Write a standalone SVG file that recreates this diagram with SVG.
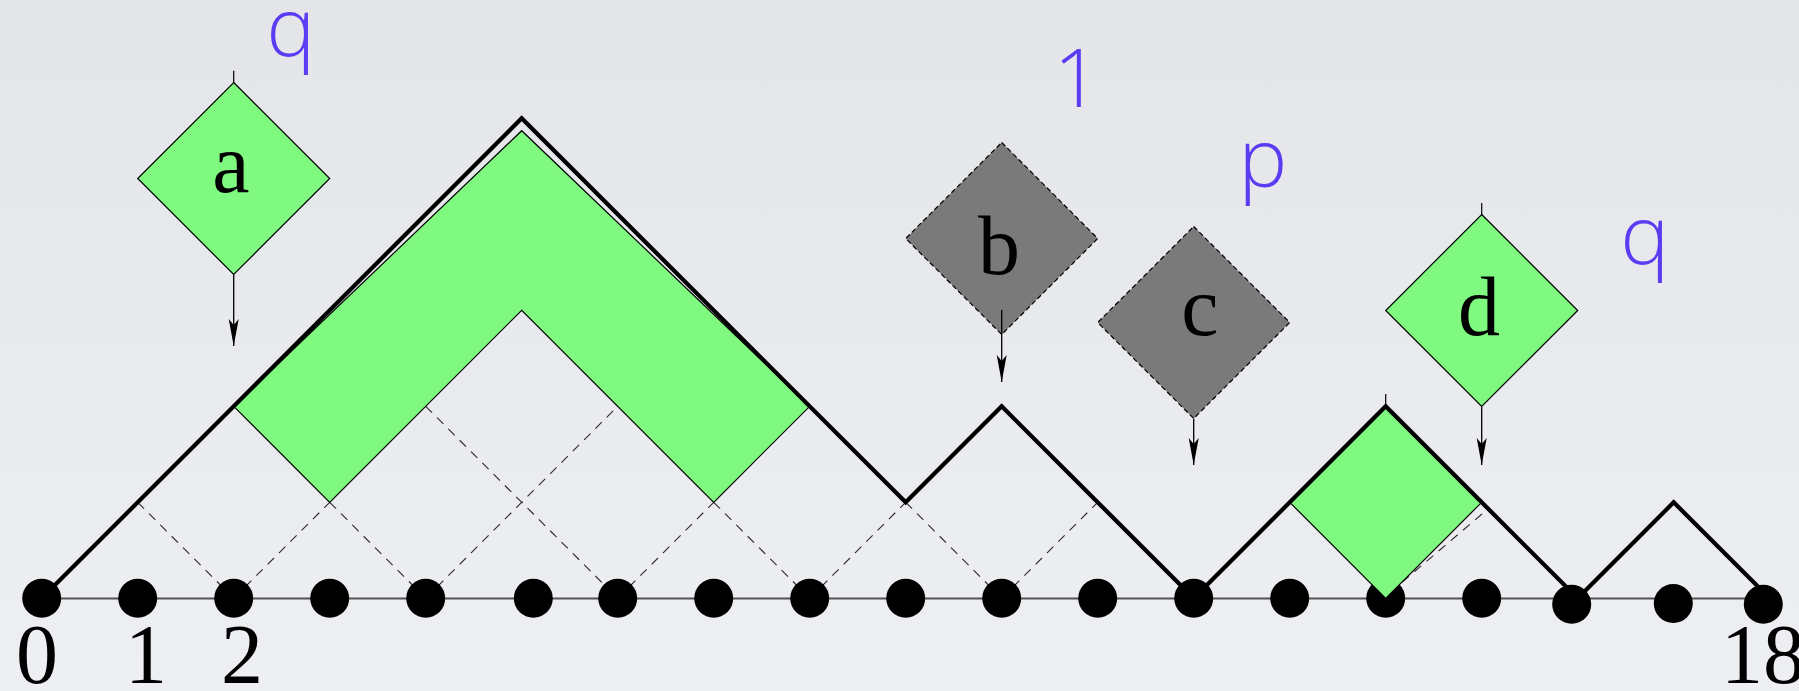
<svg xmlns="http://www.w3.org/2000/svg" width="1799" height="691" viewBox="0 0 1799 691">
  <defs>
    <linearGradient id="bg" x1="0" y1="0" x2="0" y2="1">
      <stop offset="0" stop-color="#e4e5e9"/>
      <stop offset="1" stop-color="#eeeff2"/>
    </linearGradient>
    <marker id="arrow" markerUnits="userSpaceOnUse" markerWidth="30" markerHeight="14" viewBox="-28 -7 30 14" refX="0" refY="0" orient="auto">
      <path d="M0,0 L-27,-5 L-21,0 L-27,5 Z" fill="#000"/>
    </marker>
    <style>
      .thick { fill: none; stroke: #000; stroke-width: 4.2; stroke-linejoin: miter; stroke-linecap: butt; }
      .dash { fill: none; stroke: #2a2a2a; stroke-width: 1.1; stroke-dasharray: 9 7; }
      .green { fill: #80f980; stroke: #000; stroke-width: 1.2; stroke-linejoin: miter; }
      .gray { fill: #7a7a7a; stroke: #000; stroke-width: 1.2; stroke-dasharray: 5 3; }
      .tick { stroke: #000; stroke-width: 1.2; }
      .arrow { stroke: #000; stroke-width: 1.3; fill: none; marker-end: url(#arrow); }
      .dot { fill: #000; }
      .serif { font-family: "Liberation Serif", "Times New Roman", serif; font-size: 84px; fill: #000; text-anchor: middle; }
      .blue { font-family: "Open Sans", Lato, sans-serif; font-weight: 300; font-size: 82px; fill: #5b3cf2; text-anchor: middle; }
    </style>
  </defs>

  <rect x="0" y="0" width="1799" height="691" fill="url(#bg)"/>

  <!-- baseline -->
  <line id="baseline" x1="41.7" y1="598.5" x2="1763.3" y2="598.5" stroke="#555" stroke-width="2"/>

  <!-- dashed lattice -->
  <g id="lattice">
    <line class="dash" x1="137.7" y1="502.3" x2="233.7" y2="598.3"/>
    <line class="dash" x1="233.7" y1="598.3" x2="329.7" y2="502.3"/>
    <line class="dash" x1="329.7" y1="502.3" x2="425.7" y2="598.3"/>
    <line class="dash" x1="425.7" y1="598.3" x2="617.7" y2="406.3"/>
    <line class="dash" x1="425.7" y1="406.3" x2="617.7" y2="598.3"/>
    <line class="dash" x1="617.7" y1="598.3" x2="713.7" y2="502.3"/>
    <line class="dash" x1="713.7" y1="502.3" x2="809.7" y2="598.3"/>
    <line class="dash" x1="809.7" y1="598.3" x2="905.7" y2="502.3"/>
    <line class="dash" x1="905.7" y1="502.3" x2="1001.7" y2="598.3"/>
    <line class="dash" x1="1001.7" y1="598.3" x2="1097.7" y2="502.3"/>
    <line class="dash" x1="1482" y1="514" x2="1400" y2="584"/>
  </g>

  <!-- dots -->
  <g id="dots">
    <circle class="dot" cx="41.7" cy="598.3" r="19.5"/>
    <circle class="dot" cx="137.7" cy="598.3" r="19.5"/>
    <circle class="dot" cx="233.7" cy="598.3" r="19.5"/>
    <circle class="dot" cx="329.7" cy="598.3" r="19.5"/>
    <circle class="dot" cx="425.7" cy="598.3" r="19.5"/>
    <circle class="dot" cx="533.3" cy="598.3" r="19.5"/>
    <circle class="dot" cx="617.7" cy="598.3" r="19.5"/>
    <circle class="dot" cx="713.7" cy="598.3" r="19.5"/>
    <circle class="dot" cx="809.7" cy="598.3" r="19.5"/>
    <circle class="dot" cx="905.7" cy="598.3" r="19.5"/>
    <circle class="dot" cx="1001.7" cy="598.3" r="19.5"/>
    <circle class="dot" cx="1097.7" cy="598.3" r="19.5"/>
    <circle class="dot" cx="1193.7" cy="598.3" r="19.5"/>
    <circle class="dot" cx="1289.7" cy="598.3" r="19.5"/>
    <circle class="dot" cx="1385.7" cy="598.3" r="19.5"/>
    <circle class="dot" cx="1481.7" cy="598.3" r="19.5"/>
    <circle class="dot" cx="1571.7" cy="604.3" r="19.5"/>
    <circle class="dot" cx="1673.3" cy="603.5" r="19.5"/>
    <circle class="dot" cx="1763.3" cy="604.3" r="19.5"/>
  </g>

  <!-- green band -->
  <g id="band">
    <polygon class="green" points="233.7,406.3 521.7,130.7 809.7,406.3 713.7,502.3 521.7,310.3 329.7,502.3"/>
  </g>

  <!-- green tile at position 14 -->
  <g id="tile14">
    <polygon class="green" points="1385.7,406.3 1481.7,502.3 1385.7,598.3 1289.7,502.3"/>
    <line class="tick" x1="1385.7" y1="394" x2="1385.7" y2="406.3"/>
  </g>

  <!-- thick path -->
  <polyline id="path" class="thick" points="41.7,598.3 521.7,118.3 905.7,502.3 1001.7,406.3 1193.7,598.3 1385.7,406.3 1481.7,502.3 1577.7,598.3 1673.7,502.3 1769.7,598.3"/>

  <!-- floating diamonds -->
  <g id="node-a">
    <line class="tick" x1="233.7" y1="70.7" x2="233.7" y2="83"/>
    <polygon class="green" points="233.7,82.5 329.7,178.5 233.7,274.5 137.7,178.5"/>
    <text class="serif" x="231" y="192">a</text>
  </g>
  <g id="node-b">
    <polygon class="gray" points="1001.7,142.5 1097.7,238.5 1001.7,334.5 905.7,238.5"/>
    <text class="serif" x="999" y="274">b</text>
  </g>
  <g id="node-c">
    <polygon class="gray" points="1193.7,226.5 1289.7,322.5 1193.7,418.5 1097.7,322.5"/>
    <text class="serif" x="1200" y="335">c</text>
  </g>
  <g id="node-d">
    <line class="tick" x1="1481.7" y1="203" x2="1481.7" y2="215"/>
    <polygon class="green" points="1481.7,214.5 1577.7,310.5 1481.7,406.5 1385.7,310.5"/>
    <text class="serif" x="1479" y="335">d</text>
  </g>

  <!-- connectors -->
  <g id="connectors">
    <line class="arrow" x1="233.7" y1="274.5" x2="233.7" y2="346"/>
    <line class="arrow" x1="1001.7" y1="310" x2="1001.7" y2="382"/>
    <line class="arrow" x1="1193.7" y1="418.5" x2="1193.7" y2="465"/>
    <line class="arrow" x1="1481.7" y1="406.5" x2="1481.7" y2="465"/>
  </g>

  <!-- blue weights -->
  <g id="weights">
    <text class="blue" x="291" y="56">q</text>
    <text class="blue" x="1077" y="107">1</text>
    <text class="blue" x="1263" y="187">p</text>
    <text class="blue" x="1645" y="264">q</text>
  </g>

  <!-- axis labels -->
  <g id="axis-labels">
    <text class="serif" x="37" y="683">0</text>
    <text class="serif" x="146" y="683">1</text>
    <text class="serif" x="242" y="683">2</text>
    <text class="serif" x="1763" y="683">18</text>
  </g>
</svg>
